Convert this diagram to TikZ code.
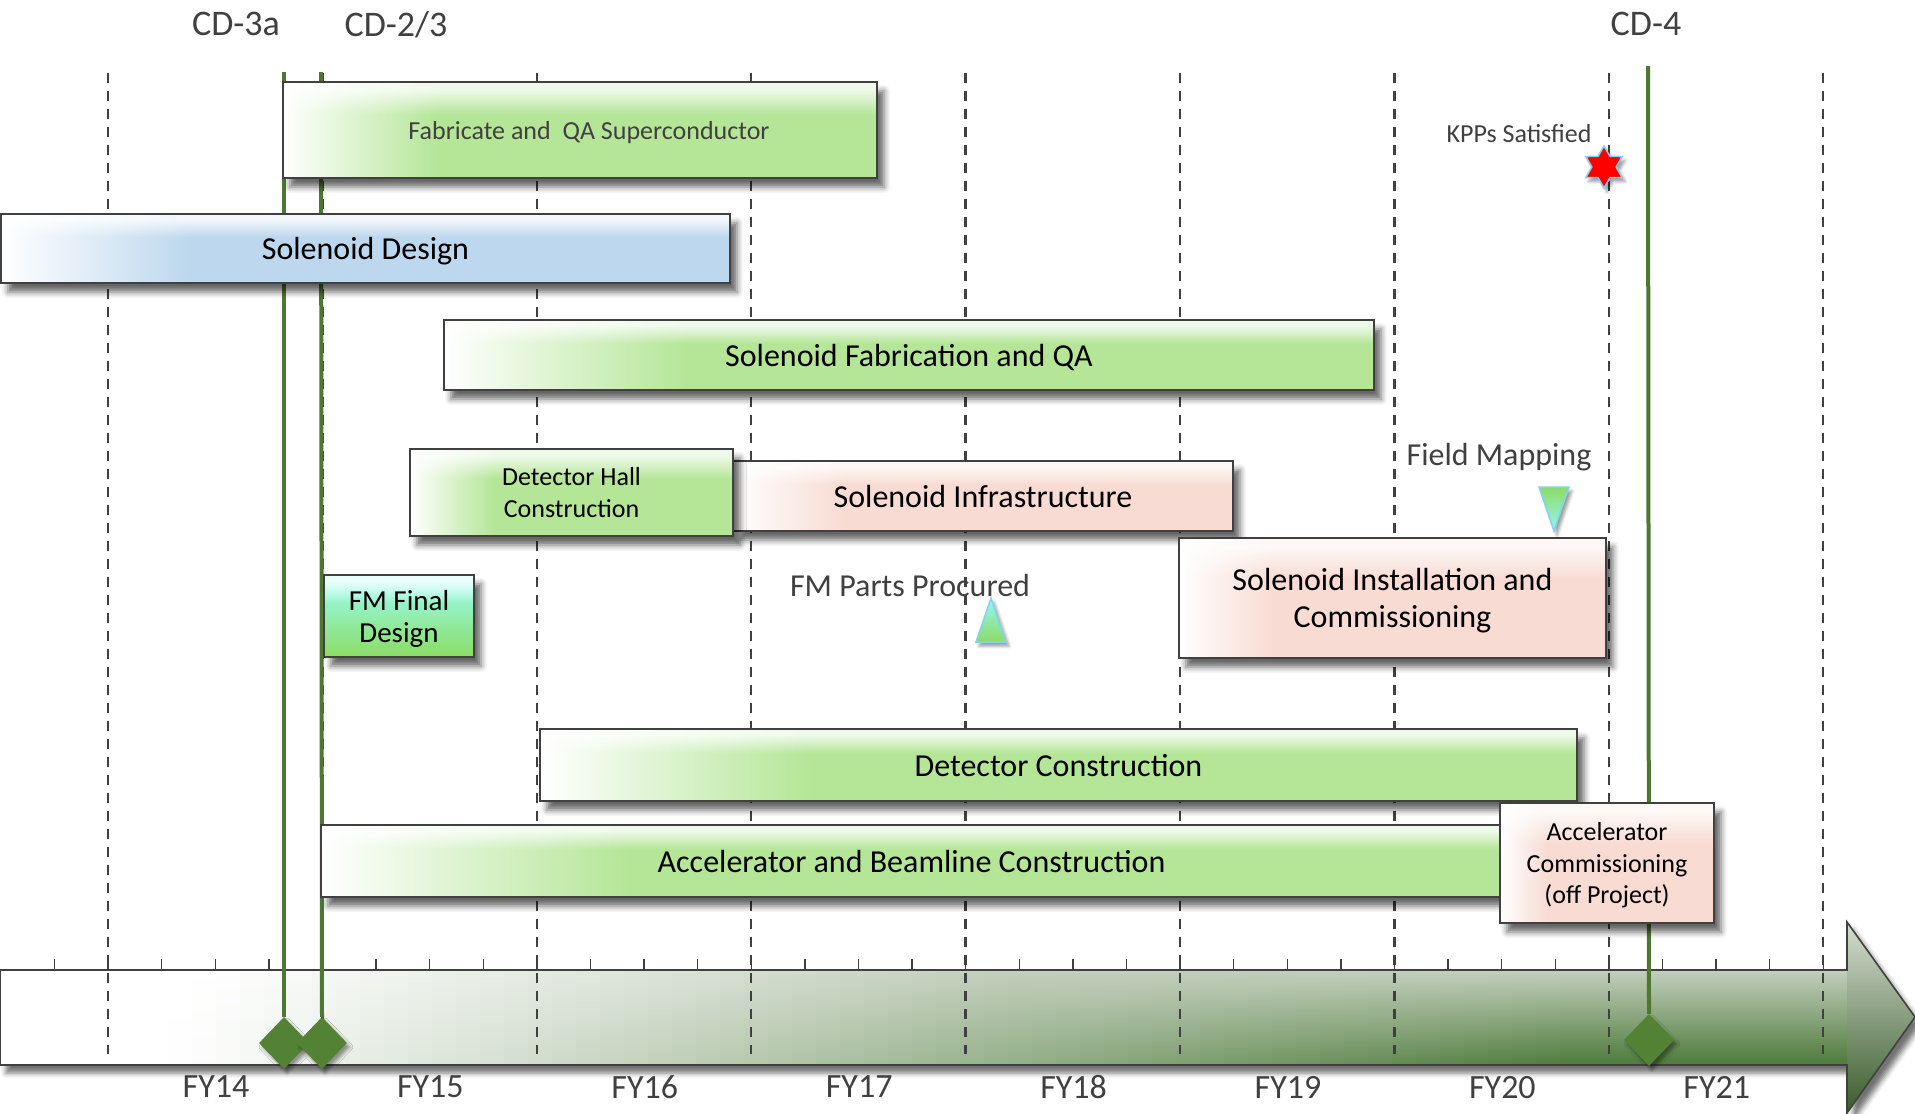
\documentclass[tikz,border=0pt]{standalone}
\usepackage{fontspec}
\setmainfont{Carlito}
\usetikzlibrary{shapes.geometric,shadows.blur,fadings,positioning}

\definecolor{labelgray}{RGB}{64,64,64}
\definecolor{cdgreen}{RGB}{84,130,53}
\definecolor{bargreen}{RGB}{181,230,152}
\definecolor{barblue}{RGB}{189,215,238}
\definecolor{barpink}{RGB}{248,220,211}
\definecolor{fmcyan}{RGB}{153,255,250}
\definecolor{fmgreen}{RGB}{140,220,100}
\definecolor{markblue}{RGB}{130,210,240}
\definecolor{axtop}{RGB}{195,207,189}
\definecolor{axbot}{RGB}{77,122,58}

\pgfdeclarehorizontalshading{greenbar}{100bp}{color(0bp)=(white); color(25bp)=(white); color(38bp)=(bargreen); color(100bp)=(bargreen)}
\pgfdeclarehorizontalshading{bluebar}{100bp}{color(0bp)=(white); color(25bp)=(white); color(38bp)=(barblue); color(100bp)=(barblue)}
\pgfdeclarehorizontalshading{pinkbar}{100bp}{color(0bp)=(white); color(25bp)=(white); color(36bp)=(barpink); color(100bp)=(barpink)}
\pgfdeclareverticalshading{hiliteshade}{100bp}{color(0bp)=(black); color(58bp)=(black); color(71bp)=(white); color(100bp)=(white)}
\pgfdeclarefading{hilite}{\pgfuseshading{hiliteshade}}

\begin{document}
\begin{tikzpicture}[x=1pt,y=-1pt,
	bar/.style={draw=labelgray, line width=1.6pt, shade,
		inner sep=0pt, outer sep=0pt, anchor=north west, align=center,
		font=\fontsize{32}{37}\selectfont, text depth=0pt,
		blur shadow={shadow xshift=7pt, shadow yshift=-9pt, shadow blur radius=6pt, shadow opacity=60},
		path picture={\fill[white, fill opacity=0.8, path fading=hilite]
			(path picture bounding box.south west) rectangle (path picture bounding box.north east);}},
	greenbox/.style={bar, shading=greenbar},
	bluebox/.style={bar, shading=bluebar},
	pinkbox/.style={bar, shading=pinkbar},
	smalltext/.style={font=\fontsize{26}{31.5}\selectfont},
	toplabel/.style={text=labelgray, font=\fontsize{36}{40}\selectfont, text depth=0pt},
	note/.style={text=labelgray, font=\fontsize{32}{36}\selectfont, text depth=0pt},
	fylabel/.style={text=labelgray, font=\fontsize{34}{38}\selectfont, text depth=0pt},
	gridline/.style={labelgray, line width=2.4pt, dash pattern=on 10pt off 8pt},
	cdline/.style={cdgreen!92!black, line width=4pt},
	milestone/.style={diamond, fill=cdgreen, inner sep=0pt,
		minimum width=50pt, minimum height=52pt,
		blur shadow={shadow xshift=3pt, shadow yshift=-4pt, shadow blur radius=3pt, shadow opacity=40}},
	marker/.style={draw=markblue, line width=1.5pt,
		blur shadow={shadow xshift=3pt, shadow yshift=-4pt, shadow blur radius=3pt, shadow opacity=40}}]

	\useasboundingbox (0,0) rectangle (1915,1114);

	% Time axis
	\path[blur shadow={shadow xshift=6pt, shadow yshift=-8pt, shadow blur radius=5pt, shadow opacity=55}]
		(0,970) -- (1847,970) -- (1847,922) -- (1915,1017) -- (1847,1113) -- (1847,1065) -- (0,1065) -- cycle;
	\begin{scope}
		\clip (0,970) rectangle (1848,1065);
		\foreach \i in {0,...,77} {
			\pgfmathsetmacro{\ft}{min(max((\i*24+12-200)/8,0),100)}
			\pgfmathsetmacro{\fb}{min(max((\i*24+12-170)/14,0),100)}
			\shade[top color=axtop!\ft!white, bottom color=axbot!\fb!white]
				(\i*24,970) rectangle (\i*24+25,1065);
		}
	\end{scope}
	\shade[top color=axtop!70!white, bottom color=axbot!75!black]
		(1847,922) -- (1915,1017) -- (1847,1113) -- cycle;
	\draw[labelgray, line width=1.6pt]
		(0,970) -- (1847,970) -- (1847,922) -- (1915,1017) -- (1847,1113) -- (1847,1065) -- (0,1065) -- cycle;
	\foreach \k in {0,...,33}
		\draw[labelgray, line width=1.4pt] (54.4+53.6*\k,959) -- (54.4+53.6*\k,970);

	\foreach \n [count=\k from 0] in {14,...,21}
		\node[fylabel] (fy\n) at (216+214.4*\k,1087) {FY\n};

	% Year grid
	\foreach \k in {0,...,8}
		\draw[gridline] (108+214.4*\k,73) -- (108+214.4*\k,1054);

	% Milestones
	\node[toplabel] (lcd3a) at (236,24) {CD-3a};
	\node[toplabel] (lcd23) at (396,24) {CD-2/3};
	\node[toplabel] (lcd4) at (1646,24) {CD-4};

	\coordinate (cd3atop) at (284,72);
	\coordinate (cd23top) at (321,72);
	\coordinate (cd4top) at (1648,66);

	\node[milestone] (cd3a) at (284,1043) {};
	\node[milestone] (cd23) at (322,1043) {};
	\node[milestone] (cd4) at (1649,1040) {};

	\draw[cdline] (cd3atop) -- (cd3a.north);
	\draw[cdline] (cd23top) -- (cd23.north);
	\draw[cdline] (cd4top) -- (cd4.north);

	% Tasks
	\node[greenbox,
	smalltext,
	text=labelgray,
	minimum width=594pt,
	minimum height=96pt] (block1) at (283,82) {\hspace*{18pt}Fabricate and~ QA Superconductor};

	\node[bluebox,
	minimum width=729pt,
	minimum height=69pt] (block2) at (1,214) {Solenoid Design};

	\node[greenbox,
	minimum width=930pt,
	minimum height=70pt] (block3) at (444,320) {Solenoid Fabrication and QA};

	\node[pinkbox,
	minimum width=500pt,
	minimum height=70pt] (block5) at (733,461) {Solenoid Infrastructure};

	\node[greenbox,
	smalltext,
	minimum width=323pt,
	minimum height=87pt] (block4) at (410,449) {Detector Hall\\Construction};

	\node[bar,
	top color=fmcyan,
	bottom color=fmgreen,
	font=\fontsize{29}{32}\selectfont,
	minimum width=150pt,
	minimum height=82pt] (block6) at (324,575) {FM Final\\Design};

	\node[pinkbox,
	minimum width=427pt,
	minimum height=120pt] (block7) at (1179,538) {Solenoid Installation and\\Commissioning};

	\node[greenbox,
	minimum width=1037pt,
	minimum height=72pt] (block8) at (540,729) {Detector Construction};

	\node[greenbox,
	minimum width=1181pt,
	minimum height=72pt] (block9) at (321,825) {Accelerator and Beamline Construction};

	\node[pinkbox,
	smalltext,
	minimum width=214pt,
	minimum height=120pt] (block10) at (1500,803) {Accelerator\\Commissioning\\(off Project)};

	% Markers
	\node[note] (fmparts) at (910,585) {FM Parts Procured};
	\shade[marker, top color=fmcyan!80!markblue, bottom color=fmgreen]
		(991,598) -- (1006,642) -- (976,642) -- cycle;

	\node[note] (fieldmap) at (1499,454) {Field Mapping};
	\shade[marker, top color=fmgreen, bottom color=fmcyan!80!markblue]
		(1539,487) -- (1569,487) -- (1554,531) -- cycle;

	\node[text=labelgray, smalltext, text depth=0pt] (kpp) at (1519,133) {KPPs Satisfied};
	\node[marker,
	star,
	star points=6,
	star point ratio=1.73,
	minimum size=42pt,
	inner sep=0pt,
	fill=red] (kppstar) at (1604,167) {};

\end{tikzpicture}
\end{document}
